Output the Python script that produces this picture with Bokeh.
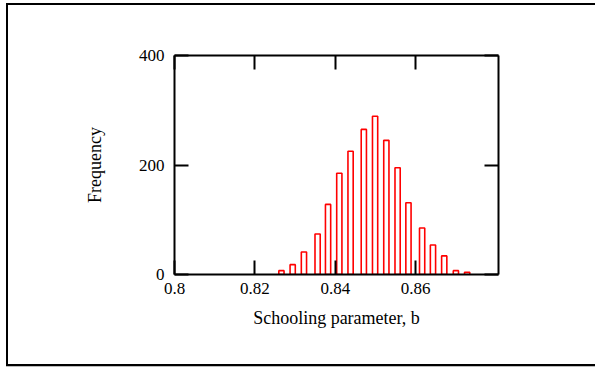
from bokeh.plotting import figure
from bokeh.models import LinearAxis, FixedTicker, Range1d, ColumnDataSource, InlineStyleSheet
from bokeh.embed import file_html
from bokeh.resources import INLINE

# Histogram of the schooling parameter b: bin centres and counts
bin_centers = [0.8266, 0.8294, 0.8322, 0.8356, 0.8382, 0.8410, 0.8438, 0.8471, 0.8499,
               0.8527, 0.8555, 0.8582, 0.8616, 0.8643, 0.8671, 0.8700, 0.8728]
frequency = [7, 18, 41, 74, 128, 185, 225, 265, 289, 245, 195, 131, 85, 54, 34, 7, 4]

x_ticks = [0.8, 0.82, 0.84, 0.86]
x_tick_labels = ["0.8", "0.82", "0.84", "0.86"]
y_ticks = [0, 200, 400]
y_tick_labels = ["0", "200", "400"]

FONT = "Liberation Serif"

p = figure(width=595, height=368, output_backend="svg", toolbar_location=None,
           x_range=Range1d(0.8, 0.8806), y_range=Range1d(0, 400),
           min_border_left=174, min_border_right=97, min_border_top=55, min_border_bottom=94)
p.background_fill_color = "white"
p.border_fill_color = "white"
p.outline_line_color = None
p.grid.visible = False

src = ColumnDataSource(dict(x=bin_centers, top=frequency))
p.vbar(x="x", top="top", bottom=0, width=0.0013, source=src,
       fill_color=None, line_color="#ff0000", line_width=1.6)

def style_axis(ax, show_labels):
    ax.axis_line_color = "black"
    ax.axis_line_width = 2
    ax.major_tick_line_color = "black"
    ax.major_tick_line_width = 2
    ax.major_tick_in = 14
    ax.major_tick_out = 0
    ax.minor_tick_line_color = None
    ax.major_label_text_font = FONT
    ax.major_label_text_font_size = "17px"
    ax.major_label_text_color = "black"
    ax.axis_label_text_font = FONT
    ax.axis_label_text_font_size = "18px"
    ax.axis_label_text_font_style = "normal"
    ax.axis_label_text_color = "black"
    if not show_labels:
        ax.major_label_text_alpha = 0
        ax.major_label_text_font_size = "1px"

xa = p.xaxis[0]
xa.ticker = FixedTicker(ticks=x_ticks)
xa.major_label_overrides = dict(zip(x_ticks, x_tick_labels))
style_axis(xa, True)
xa.major_label_standoff = 8
xa.axis_label = "Schooling parameter, b"
xa.axis_label_standoff = 11

ya = p.yaxis[0]
ya.ticker = FixedTicker(ticks=y_ticks)
ya.major_label_overrides = dict(zip(y_ticks, y_tick_labels))
style_axis(ya, True)
ya.major_label_standoff = 10
ya.axis_label = "Frequency"
ya.axis_label_standoff = 31

top_ax = LinearAxis(ticker=FixedTicker(ticks=x_ticks))
style_axis(top_ax, False)
p.add_layout(top_ax, "above")

right_ax = LinearAxis(ticker=FixedTicker(ticks=y_ticks))
style_axis(right_ax, False)
p.add_layout(right_ax, "right")

# surrounding frame (left, top and bottom edges) around the whole figure
p.stylesheets = [InlineStyleSheet(css="""
:host::after {
  content: "";
  position: absolute;
  left: 6px;
  top: 3px;
  width: 589px;
  height: 359px;
  border-left: 2px solid black;
  border-top: 2px solid black;
  border-bottom: 2px solid black;
  box-shadow: 0 1px 0 #bbbbbb;
  pointer-events: none;
}
""")]

open("out.html", "w").write(file_html(p, INLINE))
